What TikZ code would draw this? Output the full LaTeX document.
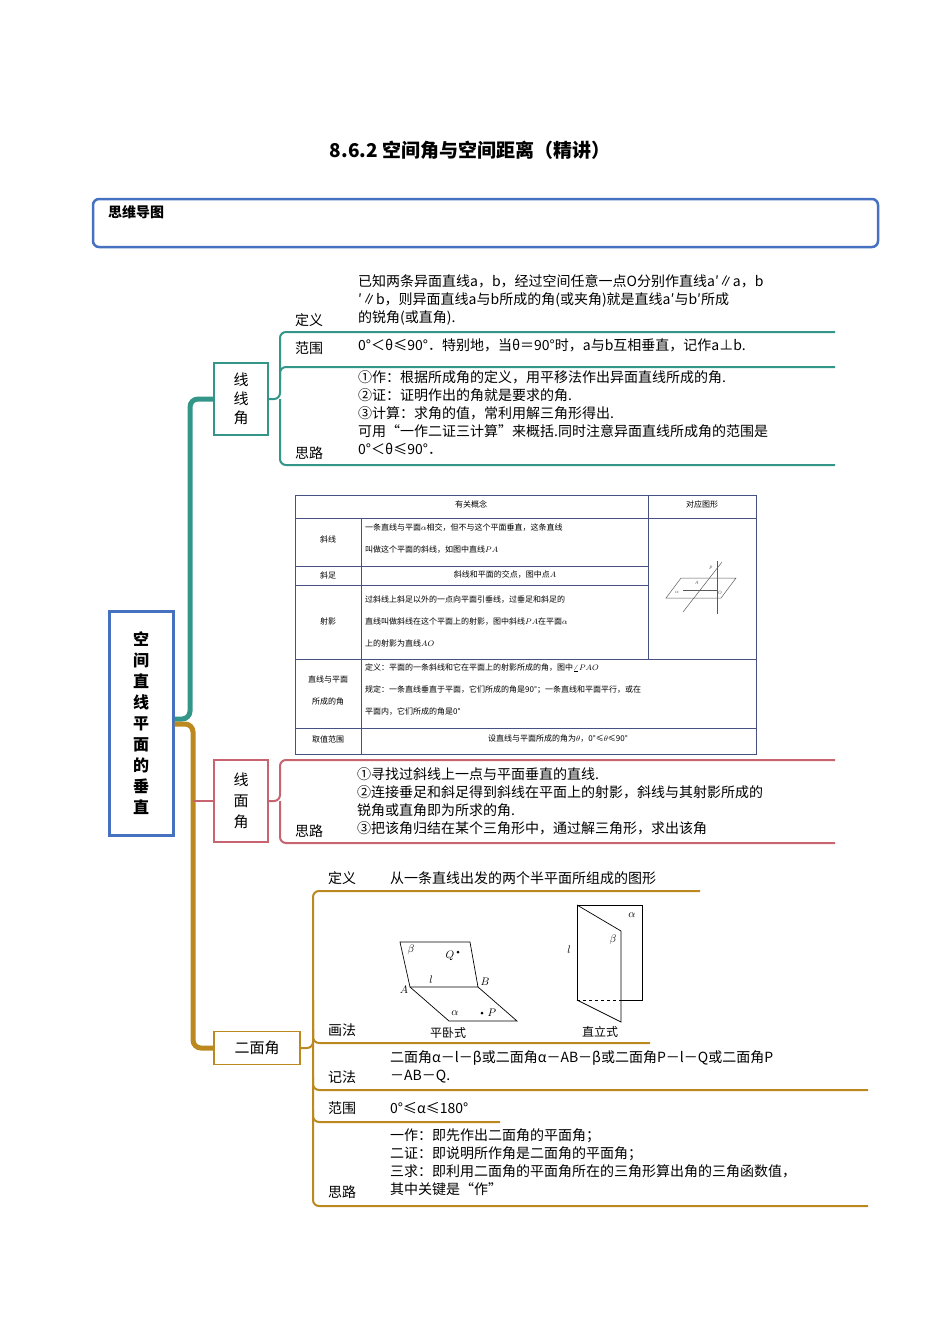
\documentclass[tikz,border=0pt]{standalone}
\usepackage{fontspec}
\setmainfont{Liberation Serif}
\newfontfamily\cjk{Noto Sans CJK SC}
\usetikzlibrary{positioning}
\definecolor{tealc}{RGB}{52,150,136}
\definecolor{pinkc}{RGB}{200,100,112}
\definecolor{goldc}{RGB}{188,136,32}
\definecolor{bluec}{RGB}{70,112,192}
\definecolor{tabc}{RGB}{70,80,130}
\begin{document}
\begin{tikzpicture}[x=1pt,y=-1pt,
    txt/.style={anchor=north west,inner sep=0pt,align=left,font=\cjk\fontsize{14}{18}\selectfont},
    lbl/.style={anchor=west,inner sep=0pt,font=\cjk\fontsize{14}{16}\selectfont},
    tab/.style={inner sep=1pt,align=left,font=\cjk\fontsize{8}{22}\selectfont},
    branch/.style={line width=2pt,rounded corners=6pt},
    trunk/.style={line width=5pt,rounded corners=8pt}
]
\useasboundingbox (0,0) rectangle (950,1344);

% title and header box
\node[font=\cjk\bfseries\fontsize{19}{22}\selectfont] (title) at (470,150) {8.6.2 空间角与空间距离（精讲）};
\draw[bluec,line width=2.5pt,rounded corners=6pt] (93,199) rectangle (878,247);
\node[anchor=north west,inner sep=0pt,font=\cjk\bfseries\fontsize{14}{16}\selectfont] (mind) at (108,205) {思维导图};

% root
\node[draw=bluec,line width=3pt,minimum width=64pt,minimum height=224pt,align=center,
      font=\cjk\bfseries\fontsize{16}{21}\selectfont] (root) at (141,723) {空\\间\\直\\线\\平\\面\\的\\垂\\直};

% second level boxes
\node[draw=tealc,line width=1.5pt,minimum width=54pt,minimum height=72pt,align=center,
      font=\cjk\fontsize{15}{19}\selectfont] (xx) at (241,399) {线\\线\\角};
\node[draw=pinkc,line width=1.5pt,minimum width=54pt,minimum height=82pt,align=center,
      font=\cjk\fontsize{15}{21}\selectfont] (xm) at (241,801) {线\\面\\角};
\node[draw=goldc,line width=1.5pt,minimum width=86pt,minimum height=33pt,
      font=\cjk\fontsize{15}{18}\selectfont] (em) at (257,1048) {二面角};

% trunks
\draw[tealc,trunk] (root.east|-0,719) -- (190,719) -- (190,399) -- (xx.west);
\draw[goldc,trunk] (root.east|-0,724) -- (193,724) -- (193,1048) -- (em.west);
\draw[pinkc,line width=2pt] (193,801) -- (xm.west);

% 线线角 branches
\draw[tealc,branch] (xx.east) -- (280,399) -- (280,332) -- (835,332);
\draw[tealc,branch] (280,380) -- (280,367) -- (835,367);
\draw[tealc,branch] (280,399) -- (280,465) -- (835,465);
\node[lbl] (d1) at (295,320) {定义};
\node[lbl] (f1) at (295,348) {范围};
\node[lbl] (s1) at (295,453) {思路};
\node[txt] (d1t) at (358,274) {已知两条异面直线a，b，经过空间任意一点O分别作直线a′∥a，b\\′∥b，则异面直线a与b所成的角(或夹角)就是直线a′与b′所成\\的锐角(或直角).};
\node[txt] (f1t) at (358,339) {0°＜θ≤90°．特别地，当θ＝90°时，a与b互相垂直，记作a⊥b.};
\node[txt] (s1t) at (358,370) {①作：根据所成角的定义，用平移法作出异面直线所成的角.\\②证：证明作出的角就是要求的角.\\③计算：求角的值，常利用解三角形得出.\\可用“一作二证三计算”来概括.同时注意异面直线所成角的范围是\\0°＜θ≤90°．};

% table
\draw[tabc,line width=1pt] (295,495) rectangle (756,754);
\draw[tabc] (295,518) -- (756,518) (295,659) -- (756,659) (295,728) -- (756,728)
  (295,566) -- (648,566) (295,585) -- (648,585)
  (361,518) -- (361,754) (648,495) -- (648,659);
\node[tab] (h1) at (471,504) {有关概念};
\node[tab] (h2) at (702,504) {对应图形};
\node[tab] (r1) at (328,539) {斜线};
\node[tab] (r2) at (328,575) {斜足};
\node[tab] (r3) at (328,621) {射影};
\node[tab,align=center] (r4) at (328,690) {直线与平面\\所成的角};
\node[tab] (r5) at (328,739) {取值范围};
\node[tab,anchor=west] (c1) at (364,539) {一条直线与平面$\alpha$相交，但不与这个平面垂直，这条直线\\叫做这个平面的斜线，如图中直线$PA$};
\node[tab] (c2) at (505,575) {斜线和平面的交点，图中点$A$};
\node[tab,anchor=west] (c3) at (364,621) {过斜线上斜足以外的一点向平面引垂线，过垂足和斜足的\\直线叫做斜线在这个平面上的射影，图中斜线$PA$在平面$\alpha$\\上的射影为直线$AO$};
\node[tab,anchor=west] (c4) at (364,690) {定义：平面的一条斜线和它在平面上的射影所成的角，图中$\angle PAO$\\规定：一条直线垂直于平面，它们所成的角是90°；一条直线和平面平行，或在\\平面内，它们所成的角是0°};
\node[tab] (c5) at (558,739) {设直线与平面所成的角为$\theta$，0°≤$\theta$≤90°};
% small figure
\begin{scope}[gray!70!black,line width=0.5pt]
\draw (666,598) -- (681,578) -- (736,578) -- (721,598) -- cycle;
\draw (683,612) -- (722,562);
\draw (717,561) -- (717,614);
\draw (683,590) -- (717,590);
\node[font=\itshape\fontsize{5}{5}\selectfont,inner sep=0pt] (p0) at (711,568) {P};
\node[font=\itshape\fontsize{5}{5}\selectfont,inner sep=0pt] (a0) at (697,583) {A};
\node[font=\itshape\fontsize{5}{5}\selectfont,inner sep=0pt] (o0) at (720,593) {O};
\node[font=\itshape\fontsize{5}{5}\selectfont,inner sep=0pt] (al0) at (677,592) {$\alpha$};
\end{scope}

% 线面角 branches
\draw[pinkc,branch] (xm.east) -- (280,801) -- (280,760) -- (835,760);
\draw[pinkc,branch] (280,801) -- (280,843) -- (835,843);
\node[lbl] (s2) at (295,831) {思路};
\node[txt] (s2t) at (357,767) {①寻找过斜线上一点与平面垂直的直线.\\②连接垂足和斜足得到斜线在平面上的射影，斜线与其射影所成的\\锐角或直角即为所求的角.\\③把该角归结在某个三角形中，通过解三角形，求出该角};

% 二面角 branches
\draw[goldc,branch] (em.east) -- (313,1048) -- (313,891) -- (700,891);
\draw[goldc,branch] (313,1000) -- (313,1206) -- (868,1206);
\draw[goldc,branch] (313,1030) -- (313,1043) -- (650,1043);
\draw[goldc,branch] (313,1077) -- (313,1090) -- (868,1090);
\draw[goldc,branch] (313,1110) -- (313,1122) -- (500,1122);
\node[lbl] (d3) at (328,878) {定义};
\node[lbl] (h3) at (328,1030) {画法};
\node[lbl] (j3) at (328,1077) {记法};
\node[lbl] (f3) at (328,1108) {范围};
\node[lbl] (s3) at (328,1192) {思路};
\node[lbl] (d3t) at (390,878) {从一条直线出发的两个半平面所组成的图形};
\node[txt] (j3t) at (390,1050) {二面角α－l－β或二面角α－AB－β或二面角P－l－Q或二面角P\\－AB－Q.};
\node[lbl] (f3t) at (390,1108) {0°≤α≤180°};
\node[txt] (s3t) at (390,1128) {一作：即先作出二面角的平面角；\\二证：即说明所作角是二面角的平面角；\\三求：即利用二面角的平面角所在的三角形算出角的三角函数值，\\其中关键是“作”};

% dihedral figures
\begin{scope}[line width=0.7pt]
\draw (400,942) -- (470,942) -- (478,987) -- (410,987) -- cycle;
\draw (410,987) -- (449,1021) -- (517,1021) -- (478,987);
\fill (458,952) circle (1.5pt);
\fill (482,1013) circle (1.5pt);
\end{scope}
\node[font=\itshape\fontsize{11}{11}\selectfont] (beta1) at (411,950) {$\beta$};
\node[font=\itshape\fontsize{11}{11}\selectfont] (q1) at (450,956) {$Q$};
\node[font=\itshape\fontsize{11}{11}\selectfont] (l1) at (431,980) {$l$};
\node[font=\itshape\fontsize{11}{11}\selectfont] (a1) at (404,990) {$A$};
\node[font=\itshape\fontsize{11}{11}\selectfont] (b1) at (485,982) {$B$};
\node[font=\itshape\fontsize{11}{11}\selectfont] (al1) at (455,1013) {$\alpha$};
\node[font=\itshape\fontsize{11}{11}\selectfont] (p1) at (492,1013) {$P$};
\node[font=\cjk\fontsize{12}{12}\selectfont] (pw) at (448,1033) {平卧式};
\begin{scope}[line width=0.7pt]
\draw (621,1000) -- (642,1000) -- (642,905) -- (577,905) -- (577,1000);
\draw (577,905) -- (621,931) -- (621,1022) -- (577,1000);
\draw[dashed] (577,1000) -- (621,1000);
\end{scope}
\node[font=\itshape\fontsize{11}{11}\selectfont] (al2) at (632,915) {$\alpha$};
\node[font=\itshape\fontsize{11}{11}\selectfont] (beta2) at (613,940) {$\beta$};
\node[font=\itshape\fontsize{11}{11}\selectfont] (l2) at (569,950) {$l$};
\node[font=\cjk\fontsize{12}{12}\selectfont] (zl) at (600,1032) {直立式};
\end{tikzpicture}
\end{document}
